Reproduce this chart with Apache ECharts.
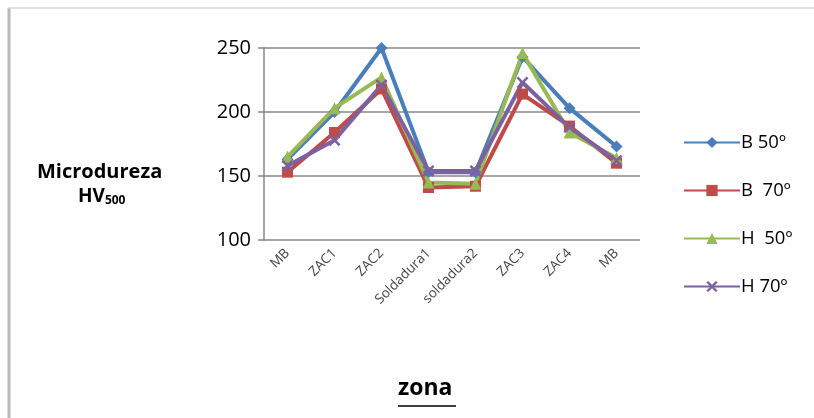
<!DOCTYPE html>
<html><head><meta charset="utf-8">
<script src="https://cdn.jsdelivr.net/npm/echarts@6/dist/echarts.min.js"></script>
<style>html,body{margin:0;padding:0;background:#fff}#c{width:814px;height:418px}</style>
</head><body><div id="c"></div>
<script>
const categories = ['MB','ZAC1','ZAC2','Soldadura1','soldadura2','ZAC3','ZAC4','MB'];
const seriesNames = ['B 50º','B  70º','H  50º','H 70º'];
const b50 = [163, 200, 250, 153, 153, 243, 203, 173];
const b70 = [153, 184, 218, 141, 142, 214, 189, 160];
const h50 = [165, 203, 227, 145, 144, 246, 184, 164];
const h70 = [158, 178, 221, 154, 154, 223, 188, 162];
const yTicks = [100, 150, 200, 250];

const colors = ['#4A7EBB','#BE4B48','#98B954','#7D60A0'];
const symbols = ['diamond','rect','triangle','path://M0,1.5 L1.5,0 L5,3.5 L8.5,0 L10,1.5 L6.5,5 L10,8.5 L8.5,10 L5,6.5 L1.5,10 L0,8.5 L3.5,5 Z'];
const symSizes = [12,11,12,12];
const FONT = 'Open Sans';
const chart = echarts.init(document.getElementById('c'));
const data = [b50,b70,h50,h70];
chart.setOption({
  animation:false,
  backgroundColor:'#fff',
  graphic:[
    {type:'line', shape:{x1:9,y1:8,x2:9,y2:418}, style:{stroke:'#b8b8b8', lineWidth:3}},
    {type:'line', shape:{x1:8,y1:8,x2:814,y2:8}, style:{stroke:'#d8d8d8', lineWidth:1.5}},
    {type:'text', left:37, top:162, style:{text:'Microdureza', font:'bold 20px "Open Sans"', fill:'#000'}},
    {type:'text', left:78, top:187, style:{text:'{a|HV}{b|500}', rich:{a:{font:'bold 19px "Open Sans"', fill:'#000'}, b:{font:'bold 12px "Open Sans"', fill:'#000', padding:[9,0,0,0]}}}},
    {type:'text', left:398, top:377, style:{text:'zona', font:'bold 23px "Open Sans"', fill:'#000'}},
    {type:'line', shape:{x1:398,y1:406,x2:456,y2:406}, style:{stroke:'#000', lineWidth:1.5}}
  ],
  grid:{left:264, top:48, right:174, bottom:178, containLabel:false},
  legend:{
    orient:'vertical', left:678, top:128, itemWidth:56, itemHeight:14, itemGap:29,
    textStyle:{fontFamily:FONT, fontSize:18.5, color:'#000', padding:[0,0,0,-4]},
    data:seriesNames
  },
  xAxis:{
    type:'category', data:categories, boundaryGap:true,
    axisLine:{show:false}, axisTick:{show:false},
    axisLabel:{rotate:45, fontFamily:FONT, fontSize:13.5, color:'#444', margin:11, interval:0}
  },
  yAxis:{
    type:'value', min:100, max:250, interval:50,
    axisLine:{show:true, lineStyle:{color:'#888', width:1.5}},
    axisTick:{show:true, length:6, lineStyle:{color:'#888', width:1.5}},
    splitLine:{lineStyle:{color:'#888', width:1.5}},
    axisLabel:{fontFamily:FONT, fontSize:20, color:'#000', margin:13,
      formatter:v=>yTicks.includes(v)?String(v):''}
  },
  series:data.map((d,i)=>({
    name:seriesNames[i], type:'line', data:d,
    symbol:symbols[i], symbolSize:symSizes[i], showSymbol:true,
    lineStyle:{color:colors[i], width:4},
    itemStyle:{color:colors[i]}
  }))
});
</script></body></html>
